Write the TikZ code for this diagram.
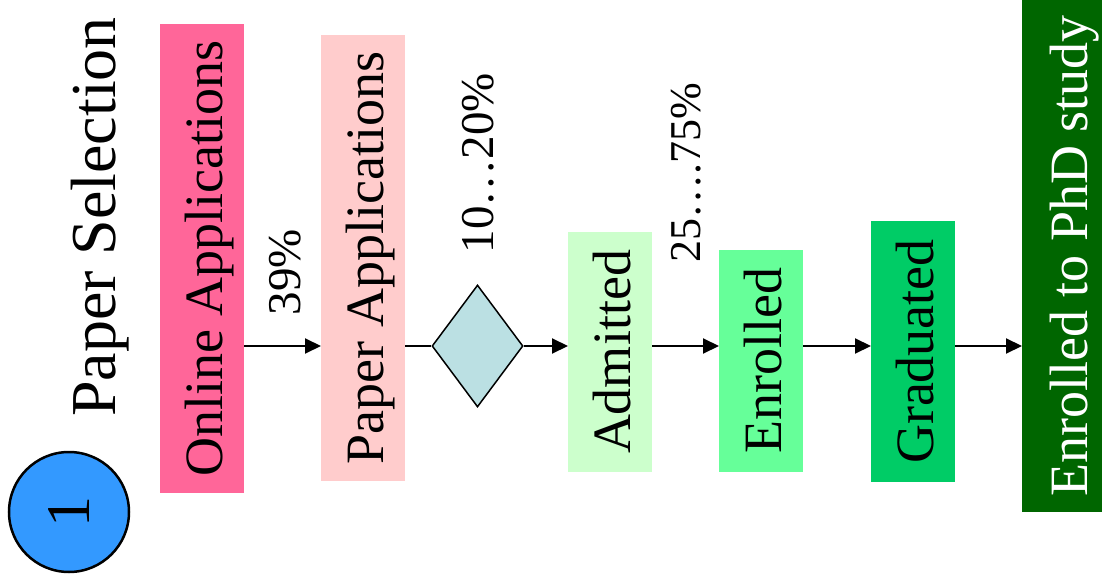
\documentclass[tikz,border=0pt]{standalone}
\usepackage{fontspec}
\setmainfont{Liberation Serif}
\usetikzlibrary{shapes.geometric,arrows.meta}
\definecolor{onlinec}{HTML}{FF6699}
\definecolor{paperc}{HTML}{FFCCCC}
\definecolor{diac}{HTML}{BBE0E3}
\definecolor{admc}{HTML}{CCFFCC}
\definecolor{enrc}{HTML}{66FF99}
\definecolor{grac}{HTML}{00CC66}
\definecolor{phdc}{HTML}{006600}
\definecolor{circc}{HTML}{3399FF}
\begin{document}
\begin{tikzpicture}[x=1pt,y=-1pt,
  vbox/.style={rotate=90, inner sep=0pt, outer sep=0pt, minimum height=84pt,
    text height=62pt, text depth=22pt, font=\fontsize{54}{60}\selectfont},
  lbl/.style={rotate=90, anchor=base, inner sep=0pt, font=\fontsize{47}{52}\selectfont},
  flow/.style={line width=2pt, -{Triangle[length=16pt,width=15pt]}},
  plain/.style={line width=2pt}
  ]
\useasboundingbox (0,0) rectangle (1102,585);
\coordinate (yl) at (0,346);
% title and circle
\node[rotate=90, anchor=base, inner sep=0pt, font=\fontsize{64}{70}\selectfont] (title) at (115,217) {Paper Selection};
\node[circle, draw, line width=2.5pt, fill=circc, minimum size=120pt, inner sep=0pt, rotate=90,
  font=\fontsize{62}{66}\selectfont] (num) at (69,512) {1};
% boxes
\node[vbox, fill=onlinec, minimum width=469pt] (on) at (202,258.5) {Online Applications};
\node[vbox, fill=paperc, minimum width=446pt] (pa) at (363,258) {Paper Applications};
\node[diamond, draw, line width=1.5pt, fill=diac, minimum width=91pt, minimum height=122pt, inner sep=0pt] (dia) at (477.5,346) {};
\node[vbox, fill=admc, minimum width=240pt] (adm) at (610,352) {Admitted};
\node[vbox, fill=enrc, minimum width=222pt] (enr) at (761,361) {Enrolled};
\node[vbox, fill=grac, minimum width=261pt] (gra) at (913,351.5) {Graduated};
\node[vbox, fill=phdc, text=white, minimum width=512pt, minimum height=80pt, text height=65pt, text depth=15pt] (phd) at (1062,256) {Enrolled to PhD study};
% labels
\node[lbl] (l39) at (300,272) {39\%};
\node[lbl] (l10) at (493,163) {10…20\%};
\node[lbl, font=\fontsize{44}{50}\selectfont] (l25) at (700,173) {25….75\%};
% connectors
\draw[flow] (on.south |- yl) -- (pa.north |- yl);
\draw[plain] (pa.south |- yl) -- (dia.west);
\draw[flow] (dia.east) -- (adm.north |- yl);
\draw[flow] (adm.south |- yl) -- (enr.north |- yl);
\draw[flow] (enr.south |- yl) -- (gra.north |- yl);
\draw[flow] (gra.south |- yl) -- (phd.north |- yl);
\end{tikzpicture}
\end{document}
